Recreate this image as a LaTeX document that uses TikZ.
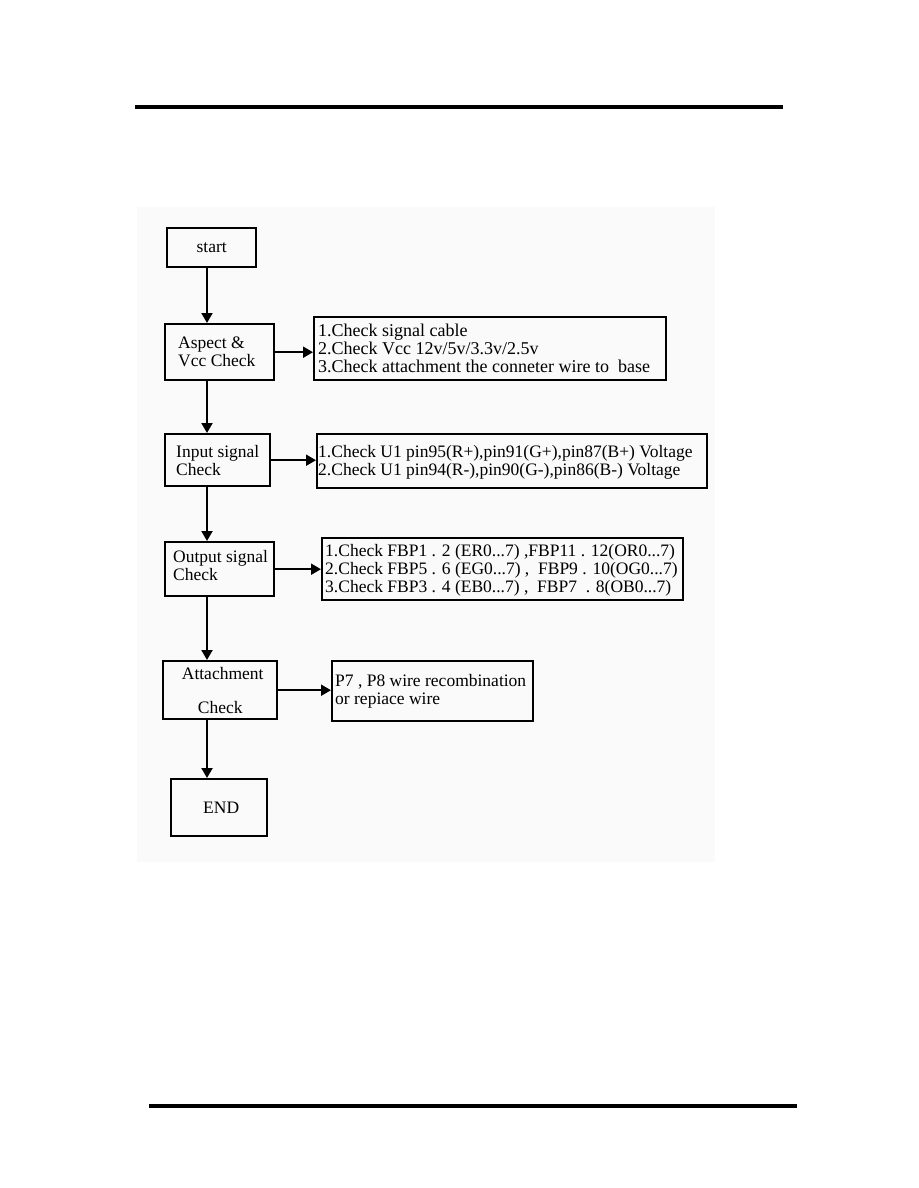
\documentclass[tikz,border=0pt]{standalone}
\usepackage{fontspec}
\setmainfont{Liberation Serif}
\usetikzlibrary{arrows.meta}
\newcommand\flowfont{\fontsize{17.5}{18}\selectfont}
\tikzset{
  box/.style={draw, line width=2.4pt, inner sep=0pt, font=\flowfont},
  txt/.style={inner sep=0pt, align=left, font=\flowfont, anchor=west},
  arr/.style={line width=2pt, -{Triangle[length=10pt,width=11pt]}},
  rule/.style={line width=4pt}
}
\begin{document}
\begin{tikzpicture}[x=1pt,y=-1pt]
\useasboundingbox (0,0) rectangle (918,1188);
\fill[black!2] (137,207) rectangle (715,862);
\draw[rule] (135,107) -- (783,107);
\draw[rule] (149,1106) -- (797,1106);
\coordinate (spine) at (207,0);
% left column
\node[box, anchor=north west, minimum width=89pt, minimum height=39pt] (start) at (166,227) {start};
\node[box, anchor=north west, minimum width=109pt, minimum height=56pt] (aspect) at (164,323) {};
\node[txt] (aspectt) at ([xshift=14pt]aspect.west) {Aspect \&\\Vcc Check};
\node[box, anchor=north west, minimum width=105pt, minimum height=52pt] (input) at (164,433) {};
\node[txt] (inputt) at ([xshift=12pt]input.west) {Input signal\\Check};
\node[box, anchor=north west, minimum width=109pt, minimum height=54pt] (output) at (164,541) {};
\node[txt] (outputt) at ([xshift=9pt,yshift=4pt]output.west) {Output signal\\Check};
\node[box, anchor=north west, minimum width=114pt, minimum height=58pt, align=center] (attach) at (162,660) {\hspace*{5pt}Attachment\\[16pt]Check};
\node[box, anchor=north west, minimum width=96pt, minimum height=57pt] (end) at (170,778) {\hspace*{4pt}END};
% right column
\node[box, anchor=north west, minimum width=352pt, minimum height=63pt] (b1) at (313,316) {};
\node[txt, font=\fontsize{18}{18}\selectfont] (b1t) at ([xshift=5pt]b1.west) {1.Check signal cable\\2.Check Vcc 12v/5v/3.3v/2.5v\\3.Check attachment the conneter wire to\ \ base};
\node[box, anchor=north west, minimum width=390pt, minimum height=54pt] (b2) at (316,433) {};
\node[txt] (b2t) at ([xshift=2pt,yshift=-1pt]b2.west) {1.Check U1 pin95(R+),pin91(G+),pin87(B+) Voltage\\2.Check U1 pin94(R-),pin90(G-),pin86(B-) Voltage};
\node[box, anchor=north west, minimum width=361pt, minimum height=62pt] (b3) at (321,537) {};
\node[txt] (b3t) at ([xshift=4pt,yshift=-1pt]b3.west) {1.Check FBP1 . 2 (ER0...7) ,FBP11 . 12(OR0...7)\\2.Check FBP5 . 6 (EG0...7) ,\ \ FBP9 . 10(OG0...7)\\3.Check FBP3 . 4 (EB0...7) ,\ \ FBP7\ \ . 8(OB0...7)};
\node[box, anchor=north west, minimum width=201pt, minimum height=60pt] (b4) at (331,660) {};
\node[txt] (b4t) at ([xshift=4pt]b4.west) {P7 , P8 wire recombination\\or repiace wire};
% vertical connectors
\draw[arr] (start.south -| spine) -- (aspect.north -| spine);
\draw[arr] (aspect.south -| spine) -- (input.north -| spine);
\draw[arr] (input.south -| spine) -- (output.north -| spine);
\draw[arr] (output.south -| spine) -- (attach.north -| spine);
\draw[arr] (attach.south -| spine) -- (end.north -| spine);
% horizontal connectors
\draw[arr] (aspect.east) -- (aspect.east -| b1.west);
\draw[arr] (input.east) -- (input.east -| b2.west);
\draw[arr] (output.east) -- (output.east -| b3.west);
\draw[arr] (attach.east) -- (attach.east -| b4.west);
\end{tikzpicture}
\end{document}
